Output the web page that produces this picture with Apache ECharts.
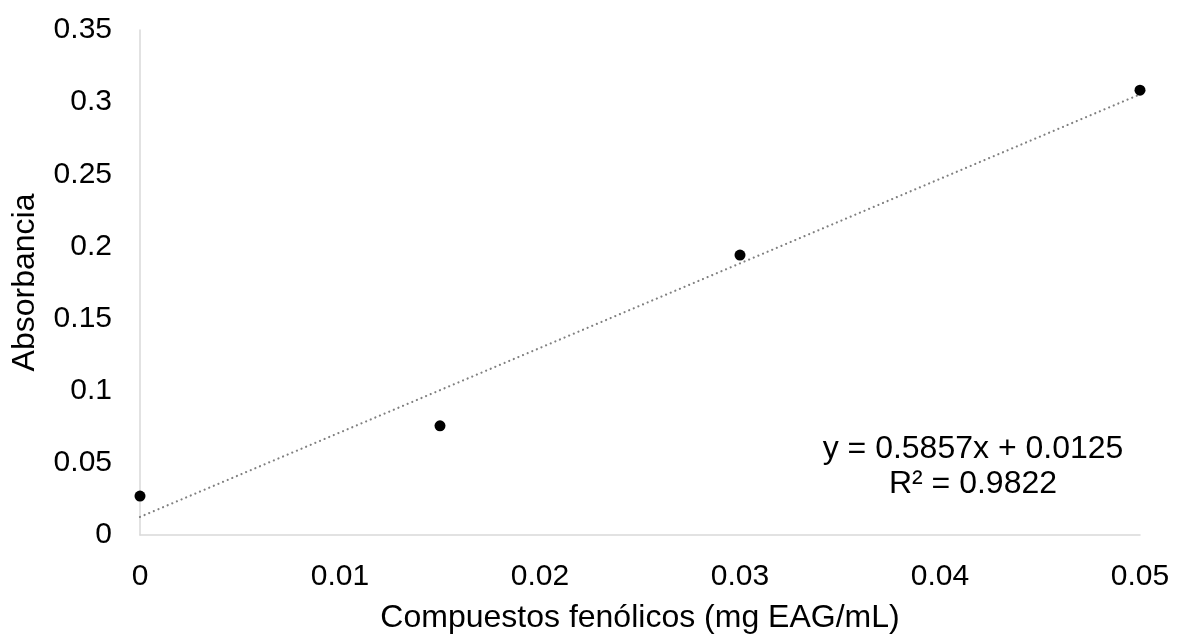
<!DOCTYPE html>
<html>
<head>
<meta charset="utf-8">
<script src="https://cdn.jsdelivr.net/npm/echarts@6/dist/echarts.min.js"></script>
<style>
  html, body { margin: 0; padding: 0; background: #fff; }
  #main { width: 1178px; height: 639px; }
</style>
</head>
<body>
<div id="main"></div>
<script>
// datos
var concentracion = [0, 0.015, 0.03, 0.05];
var absorbancia = [0.027, 0.0757, 0.194, 0.3083];

// linea de tendencia (extremos)
var tendenciaX = [0, 0.05];
var tendenciaY = [0.0125, 0.3054];

var ecuacion = 'y = 0.5857x + 0.0125';
var r2 = 'R² = 0.9822';

var fuente = '"Liberation Sans", Arial, sans-serif';

var puntos = concentracion.map(function (x, i) { return [x, absorbancia[i]]; });
var tendencia = tendenciaX.map(function (x, i) { return [x, tendenciaY[i]]; });

var chartDom = document.getElementById('main');
var myChart = echarts.init(chartDom);
var option;

option = {
  animation: false,
  backgroundColor: '#fff',
  textStyle: { fontFamily: fuente },
  grid: {
    left: 140,
    right: 38,
    top: 30,
    bottom: 99
  },
  xAxis: {
    type: 'value',
    min: 0,
    max: 0.05,
    interval: 0.01,
    name: 'Compuestos fenólicos (mg EAG/mL)',
    nameLocation: 'middle',
    nameGap: 67,
    nameTextStyle: { fontSize: 32, color: '#000', fontFamily: fuente },
    axisLine: { lineStyle: { color: '#d9d9d9', width: 1.5 } },
    axisTick: { show: false },
    splitLine: { show: false },
    axisLabel: { fontSize: 30, color: '#000', margin: 27, fontFamily: fuente }
  },
  yAxis: {
    type: 'value',
    min: 0,
    max: 0.35,
    interval: 0.05,
    name: 'Absorbancia',
    nameLocation: 'middle',
    nameGap: 99,
    nameTextStyle: { fontSize: 32, color: '#000', fontFamily: fuente },
    axisLine: { show: true, lineStyle: { color: '#d9d9d9', width: 1.5 } },
    axisTick: { show: false },
    splitLine: { show: false },
    axisLabel: { fontSize: 30, color: '#000', margin: 28, fontFamily: fuente }
  },
  // ecuacion de la recta
  graphic: [
    {
      type: 'text',
      x: 973,
      y: 432,
      style: {
        text: ecuacion + '\n' + r2,
        fill: '#000',
        font: '32px ' + fuente,
        align: 'center',
        verticalAlign: 'top',
        lineHeight: 35
      }
    }
  ],
  series: [
    {
      name: 'Tendencia',
      type: 'line',
      data: tendencia,
      symbol: 'none',
      silent: true,
      z: 1,
      lineStyle: {
        color: '#808080',
        width: 2.2,
        type: [0.01, 5],
        cap: 'round'
      }
    },
    {
      name: 'Absorbancia',
      type: 'scatter',
      data: puntos,
      symbol: 'circle',
      symbolSize: 11,
      z: 3,
      itemStyle: { color: '#000', opacity: 1 }
    }
  ]
};

option && myChart.setOption(option);
</script>
</body>
</html>
